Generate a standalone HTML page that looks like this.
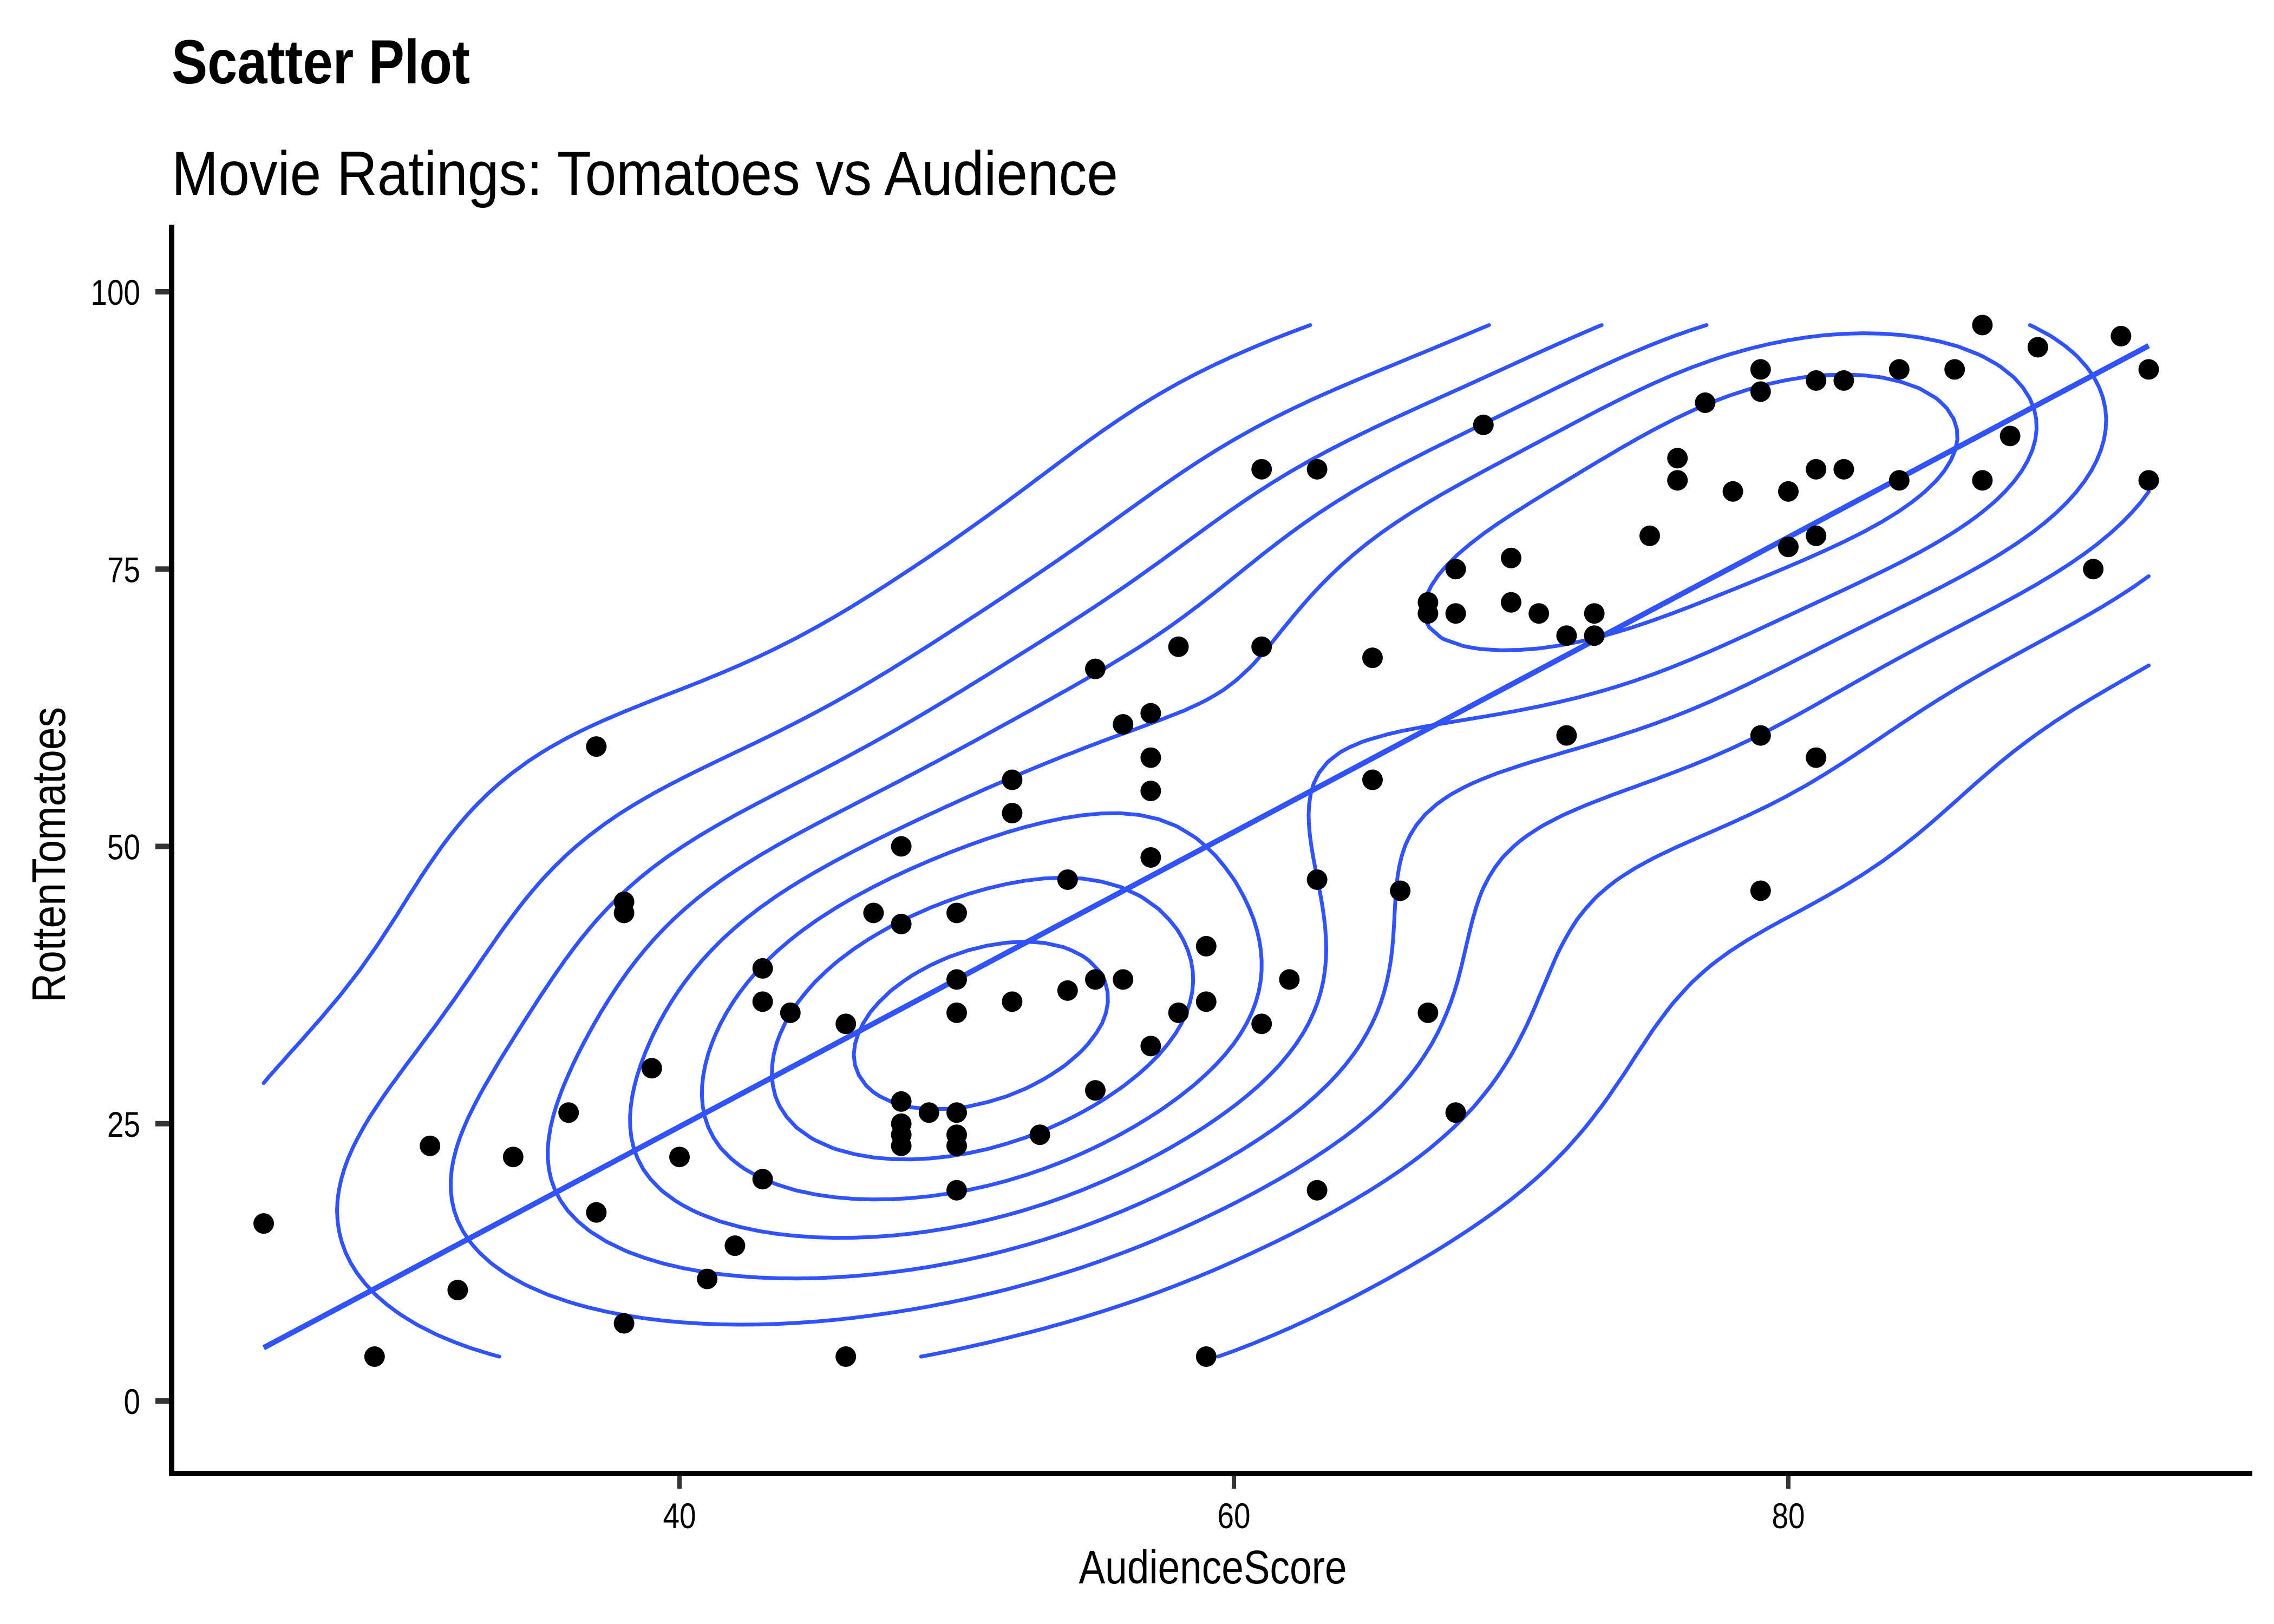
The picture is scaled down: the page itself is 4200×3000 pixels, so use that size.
<!DOCTYPE html>
<html><head><meta charset="utf-8"><title>Scatter Plot</title>
<style>html,body{margin:0;padding:0;background:#fff;}svg{display:block;}</style></head>
<body>
<svg id="chart" width="4200" height="3000" viewBox="0 0 4200 3000" xmlns="http://www.w3.org/2000/svg" font-family="'Liberation Sans', sans-serif">
<rect x="0" y="0" width="4200" height="3000" fill="#fff"/>
<text x="317" y="154" font-size="115" font-weight="bold" textLength="551" lengthAdjust="spacingAndGlyphs">Scatter Plot</text>
<text x="317" y="360" font-size="115" textLength="1748" lengthAdjust="spacingAndGlyphs">Movie Ratings: Tomatoes vs Audience</text>
<g id="contours"></g>
<g id="fit"></g>
<g id="points"></g>
<g id="axes"></g>
<text x="2240" y="2925" font-size="87" text-anchor="middle" textLength="495" lengthAdjust="spacingAndGlyphs">AudienceScore</text>
<text x="0" y="0" font-size="87" text-anchor="middle" textLength="546" lengthAdjust="spacingAndGlyphs" transform="translate(120,1579) rotate(-90)">RottenTomatoes</text>
</svg>
<script>
const audienceScore = [25,29,31,32,34,36,37,37,38,38,38,39,40,41,42,43,43,43,44,46,46,47,48,48,48,48,48,48,49,50,50,50,50,50,50,50,52,52,52,53,54,54,55,55,55,56,56,57,57,57,57,57,58,58,59,59,59,61,61,61,62,63,63,63,65,65,66,67,67,67,68,68,68,69,70,70,71,72,72,73,73,75,76,76,77,78,79,79,79,79,80,80,81,81,81,81,82,82,84,84,86,87,87,88,89,91,92,93,93];
const rottenTomatoes = [16,4,23,10,22,26,59,17,45,44,7,30,22,11,14,39,36,20,35,34,4,44,50,43,27,25,24,23,26,44,38,35,26,24,23,19,56,53,36,24,37,47,66,38,28,61,38,62,58,55,49,32,68,35,41,36,4,84,68,34,38,84,47,19,67,56,46,72,71,35,75,71,26,88,76,72,71,69,60,71,69,78,85,83,90,82,93,91,60,46,82,77,92,84,78,58,92,84,93,83,93,97,83,87,95,75,96,93,83];
const xTicks = [40,60,80];
const yTicks = [0,25,50,75,100];

const NS = 'http://www.w3.org/2000/svg';
const X0 = 1255, XS = 51.2;
const Y0 = 2588, YS = 20.49;
function sx(v){ return X0 + (v - 40) * XS; }
function sy(v){ return Y0 - v * YS; }
function mk(tag, attrs, parent){ const e = document.createElementNS(NS, tag); for (const k in attrs) e.setAttribute(k, attrs[k]); parent.appendChild(e); return e; }
const BLUE = '#3052FF';

const axes = document.getElementById('axes');
const yAxis = mk('line', {x1:317, y1:415, x2:317, y2:2727, stroke:'#000', 'stroke-width':10}, axes);


const xAxis = mk('line', {x1:312, y1:2722, x2:4160, y2:2722, stroke:'#000', 'stroke-width':10}, axes);


xTicks.forEach(t => {
  const tk = mk('line', {x1:sx(t), y1:2727, x2:sx(t), y2:2750, stroke:'#333', 'stroke-width':8}, axes);
  
  
  const lb = mk('text', {x:sx(t), y:2823, 'font-size':66, 'text-anchor':'middle', textLength:String(t).length*30.5, lengthAdjust:'spacingAndGlyphs'}, axes);
  lb.textContent = t;
  
  
});
yTicks.forEach(t => {
  const tk = mk('line', {x1:287, y1:sy(t), x2:312, y2:sy(t), stroke:'#333', 'stroke-width':10}, axes);
  
  
  const lb = mk('text', {x:259, y:sy(t)+24, 'font-size':66, 'text-anchor':'end', textLength:String(t).length*30.5, lengthAdjust:'spacingAndGlyphs'}, axes);
  lb.textContent = t;
  
  
});

const n = audienceScore.length;
function quant(a, p){ const s = a.slice().sort((u,v)=>u-v); const h=(s.length-1)*p; const lo=Math.floor(h); return s[lo] + (h-lo)*((s[Math.min(lo+1,s.length-1)])-s[lo]); }
function sd(a){ const m=a.reduce((s,v)=>s+v,0)/a.length; return Math.sqrt(a.reduce((s,v)=>s+(v-m)*(v-m),0)/(a.length-1)); }
function bwnrd(a){ const r=(quant(a,0.75)-quant(a,0.25))/1.34; return 4*1.06*Math.min(sd(a), r)*Math.pow(a.length,-0.2); }
const hx = bwnrd(audienceScore)/4, hy = bwnrd(rottenTomatoes)/4;
const G = 100;
const xmin = Math.min(...audienceScore), xmax = Math.max(...audienceScore);
const ymin = Math.min(...rottenTomatoes), ymax = Math.max(...rottenTomatoes);
const gx = [], gy = [];
for (let i=0;i<G;i++){ gx.push(xmin+(xmax-xmin)*i/(G-1)); gy.push(ymin+(ymax-ymin)*i/(G-1)); }
const z = [];
let zmax = 0;
for (let i=0;i<G;i++){ z.push([]); for (let j=0;j<G;j++){ let s=0; for (let k=0;k<n;k++){ const a=(gx[i]-audienceScore[k])/hx, b=(gy[j]-rottenTomatoes[k])/hy; s+=Math.exp(-0.5*(a*a+b*b)); } const v=s/(2*Math.PI)/(n*hx*hy); z[i].push(v); if(v>zmax) zmax=v; } }
function prettyStep(range, nint){ const raw = range/nint; const p = Math.pow(10, Math.floor(Math.log10(raw))); const f = raw/p; let m = f<1.5?1:f<3?2:f<7?5:10; return m*p; }
const step = prettyStep(zmax, 10);
const levels = [];
for (let l=step; l<zmax; l+=step) levels.push(l);

const cg = document.getElementById('contours');
levels.forEach((lv, li) => {
  const segs = [];
  for (let i=0;i<G-1;i++) for (let j=0;j<G-1;j++){
    const c = [[gx[i],gy[j],z[i][j]],[gx[i+1],gy[j],z[i+1][j]],[gx[i+1],gy[j+1],z[i+1][j+1]],[gx[i],gy[j+1],z[i][j+1]]];
    const pts = [];
    for (let e=0;e<4;e++){ const A=c[e], B=c[(e+1)%4]; if ((A[2]>=lv)!==(B[2]>=lv)){ const t=(lv-A[2])/(B[2]-A[2]); pts.push([A[0]+t*(B[0]-A[0]), A[1]+t*(B[1]-A[1])]); } }
    for (let q=0;q+1<pts.length;q+=2) segs.push([sx(pts[q][0]), sy(pts[q][1]), sx(pts[q+1][0]), sy(pts[q+1][1])]);
  }
  // connected components via union-find on rounded endpoints
  const parent = segs.map((_,i)=>i);
  function find(a){ while(parent[a]!==a){ parent[a]=parent[parent[a]]; a=parent[a]; } return a; }
  const keyMap = {};
  segs.forEach((s,i)=>{
    [[s[0],s[1]],[s[2],s[3]]].forEach(p=>{
      const k = Math.round(p[0]*10)+'_'+Math.round(p[1]*10);
      if (k in keyMap) parent[find(i)] = find(keyMap[k]); else keyMap[k] = i;
    });
  });
  const compLen = {};
  segs.forEach((s,i)=>{ const r=find(i); compLen[r]=(compLen[r]||0)+Math.hypot(s[2]-s[0], s[3]-s[1]); });
  let d = '';
  segs.forEach((s,i)=>{ if (compLen[find(i)] < 700) return; d += 'M'+s[0].toFixed(1)+' '+s[1].toFixed(1)+'L'+s[2].toFixed(1)+' '+s[3].toFixed(1); });
  if (!d) return;
  const p = mk('path', {d:d, fill:'none', stroke:BLUE, 'stroke-width':7, 'stroke-linecap':'round', 'stroke-linejoin':'round'}, cg);
  
  
});

const mx = audienceScore.reduce((s,v)=>s+v,0)/n, my = rottenTomatoes.reduce((s,v)=>s+v,0)/n;
let sxy=0, sxx=0; for (let k=0;k<n;k++){ sxy+=(audienceScore[k]-mx)*(rottenTomatoes[k]-my); sxx+=(audienceScore[k]-mx)**2; }
const slope = sxy/sxx, icpt = my - slope*mx;
const fl = mk('line', {x1:sx(xmin), y1:sy(icpt+slope*xmin), x2:sx(xmax), y2:sy(icpt+slope*xmax), stroke:BLUE, 'stroke-width':10}, document.getElementById('fit'));



const pg = document.getElementById('points');
for (let k=0;k<n;k++){
  const c = mk('circle', {cx:sx(audienceScore[k]), cy:sy(rottenTomatoes[k]), r:19, fill:'#000'}, pg);
  
  
}
</script>
</body></html>
